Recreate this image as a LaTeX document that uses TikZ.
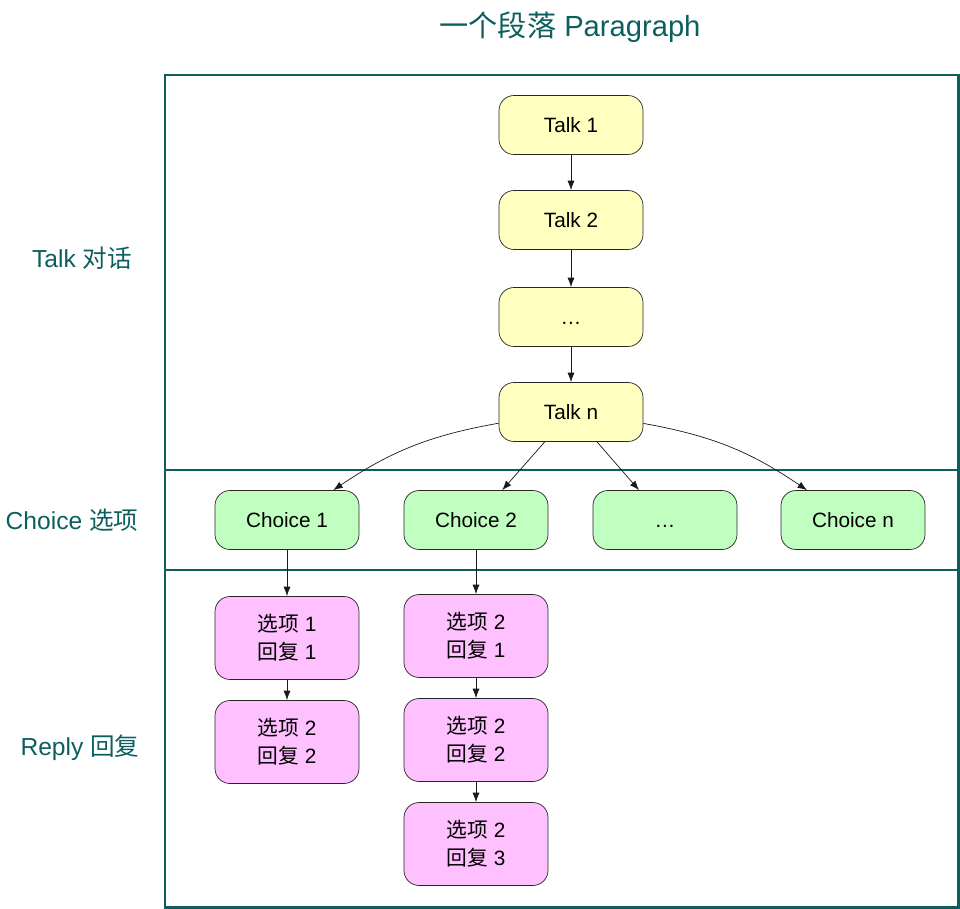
\documentclass[tikz,border=0pt]{standalone}
\usepackage{fontspec}
\setmainfont{Liberation Sans}
\newfontfamily\cjk{Noto Sans CJK SC}
\usetikzlibrary{arrows.meta}
\definecolor{cframe}{HTML}{0D5F5F}
\definecolor{ctalk}{HTML}{FFFFC0}
\definecolor{cchoice}{HTML}{C0FFC0}
\definecolor{creply}{HTML}{FFC0FF}
\tikzset{
  box/.style={draw=black!85, rounded corners=0.3cm, minimum width=2.88cm, minimum height=1.18cm, inner sep=2pt, align=center, font=\fontsize{11.8}{16}\selectfont},
  talkn/.style={box, fill=ctalk},
  choicen/.style={box, fill=cchoice},
  replyn/.style={box, fill=creply, minimum height=1.66cm},
  pre/.style={-{Latex[length=1.9mm,width=1.4mm]}, black!90},
  lane/.style={draw=cframe, line width=1.7pt},
  lbl/.style={text=cframe, font=\fontsize{14}{16}\selectfont},
  ttl/.style={text=cframe, font=\fontsize{16.6}{20}\selectfont},
}
\begin{document}
\begin{tikzpicture}[x=0.02cm,y=-0.02cm]
\useasboundingbox (0,0) rectangle (960,909);
% frame and lanes
\node[ttl] (title) at (570,27) {{\cjk 一个段落} Paragraph};
\draw[lane] (165,75) rectangle (958,907);
\draw[lane] (165,470) -- (958,470);
\draw[lane] (165,570) -- (958,570);
\node[lbl] (ltalk) at (82,258) {Talk {\cjk 对话}};
\node[lbl] (lchoice) at (72,520) {Choice {\cjk 选项}};
\node[lbl] (lreply) at (80,748) {Reply {\cjk 回复}};
% talks
\node[talkn] (t1) at (571,125) {Talk 1};
\node[talkn] (t2) at (571,220) {Talk 2};
\node[talkn] (t3) at (571,317) {\vphantom{T}\ldots};
\node[talkn] (tn) at (571,412) {Talk n};
\draw[pre] (t1) -- (t2);
\draw[pre] (t2) -- (t3);
\draw[pre] (t3) -- (tn);
% choices
\node[choicen] (c1) at (287,520) {Choice 1};
\node[choicen] (c2) at (476,520) {Choice 2};
\node[choicen] (c3) at (665,520) {\vphantom{T}\ldots};
\node[choicen] (cn) at (853,520) {Choice n};
\draw[pre] (tn) to[bend right=12] (c1);
\draw[pre] (tn) -- (c2);
\draw[pre] (tn) -- (c3);
\draw[pre] (tn) to[bend left=12] (cn);
% replies
\node[replyn] (r11) at (287,638) {{\cjk 选项} 1\\{\cjk 回复} 1};
\node[replyn] (r12) at (287,742) {{\cjk 选项} 2\\{\cjk 回复} 2};
\node[replyn] (r21) at (476,636) {{\cjk 选项} 2\\{\cjk 回复} 1};
\node[replyn] (r22) at (476,740) {{\cjk 选项} 2\\{\cjk 回复} 2};
\node[replyn] (r23) at (476,844) {{\cjk 选项} 2\\{\cjk 回复} 3};
\draw[pre] (c1) -- (r11);
\draw[pre] (r11) -- (r12);
\draw[pre] (c2) -- (r21);
\draw[pre] (r21) -- (r22);
\draw[pre] (r22) -- (r23);
\end{tikzpicture}
\end{document}
